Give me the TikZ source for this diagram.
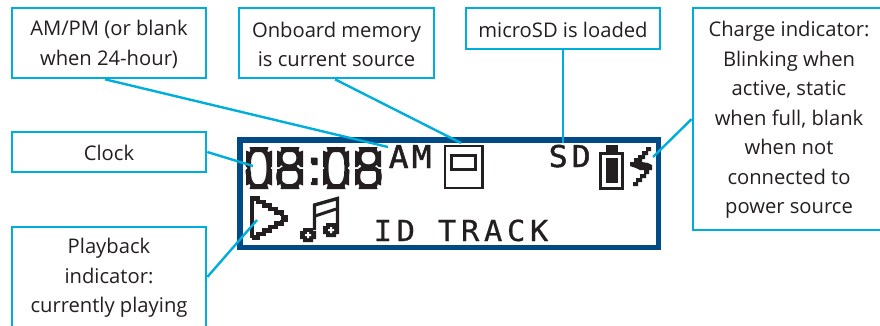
\documentclass[tikz,border=0pt]{standalone}
\usepackage{fontspec}
\setmainfont{Open Sans}
\newfontfamily\lcdmono[LetterSpace=15.3,FakeBold=0.6]{DejaVu Sans Mono}
\newfontfamily\lcdam[LetterSpace=9.3,FakeBold=1.5]{DejaVu Sans Mono}
\newfontfamily\lcdsd[LetterSpace=12.8,FakeBold=1.5]{DejaVu Sans Mono}
\newfontfamily\lcdseg{TeX Gyre Heros}
\definecolor{callout}{HTML}{00AEDB}
\definecolor{lcdframe}{HTML}{004A86}
\definecolor{lcdink}{HTML}{231F20}
\tikzset{
  labelbox/.style={draw=callout,line width=2.6pt,fill=white,inner sep=0pt},
  boxtext/.style={align=center,text=lcdink,inner sep=0pt,yshift=-1.2pt,
    font=\fontsize{20.2}{29.5}\selectfont},
  leader/.style={draw=callout,line width=2.4pt},
  ink/.style={draw=lcdink,line width=3pt,line cap=butt,line join=miter},
  lcdtext/.style={anchor=base west,inner sep=0pt,text=lcdink}
}
% one segmented digit frame over the printed numeral: #1 left edge, #2 = 1 draws the middle bar
\newcommand{\segframe}[2]{%
  \begin{scope}[shift={(#1,147)}]
    \fill[white] (-1,-1) rectangle (3.5,5) (22.5,-1) rectangle (27,5)
                 (-1,37) rectangle (3.5,43) (22.5,37) rectangle (27,43);
    \fill[white] (-1,19) rectangle (1,23) (25,19) rectangle (27,23);
    \fill[lcdink] (3.5,0) -- (22.5,0) -- (21,5) -- (5,5) -- cycle;
    \fill[lcdink] (3.5,42) -- (22.5,42) -- (21,37) -- (5,37) -- cycle;
    \fill[lcdink] (0,3.5) -- (5,5.5) -- (5,17) -- (2.5,20) -- (0,20) -- cycle;
    \fill[lcdink] (26,3.5) -- (21,5.5) -- (21,17) -- (23.5,20) -- (26,20) -- cycle;
    \fill[lcdink] (0,38.5) -- (5,36.5) -- (5,25) -- (2.5,22) -- (0,22) -- cycle;
    \fill[lcdink] (26,38.5) -- (21,36.5) -- (21,25) -- (23.5,22) -- (26,22) -- cycle;
    \ifnum#2=1 \fill[lcdink] (6,18.5) rectangle (20,23.5); \fi
  \end{scope}}
\begin{document}
\begin{tikzpicture}[x=1pt,y=-1pt]
\useasboundingbox (0,0) rectangle (880,325);
\fill[white] (0,0) rectangle (880,325);
% LCD frame
\draw[lcdframe,line width=5.6pt] (240,140) rectangle (658.5,247.5);
% LCD text
\node[lcdtext,font=\lcdseg\fontsize{58}{58}\selectfont] (clocktext) at (243.5,188.5) {\scalebox{.97}[1]{08:08}};
\fill[white] (310,185) rectangle (320,190);
\fill[lcdink] (312,158) rectangle (317.5,165) (312,178) rectangle (317.5,185);
\segframe{246}{0}
\segframe{277}{1}
\segframe{323}{0}
\segframe{355}{1}
\node[lcdtext,font=\lcdam\fontsize{31.5}{31.5}\selectfont] (ampm) at (388.5,168) {\scalebox{1.05}[1]{AM}};
\node[lcdtext,font=\lcdsd\fontsize{30}{30}\selectfont] (sdtext) at (548.5,167) {\scalebox{1.05}[1]{SD}};
\node[lcdtext,font=\lcdmono\fontsize{29}{29}\selectfont] (track) at (373.5,241) {\scalebox{1.05}[1]{ID TRACK}};
% memory icon
\draw[ink,line width=2.6pt] (445,146) rectangle (482.5,188);
\draw[ink,line width=2.2pt] (451.5,155.5) rectangle (475.5,169.5);
% battery
\draw[ink,line width=3pt] (600.5,153.5) rectangle (622.5,188);
\fill[lcdink] (606,145) rectangle (618,153);
\fill[lcdink] (606,157.5) rectangle (618,183);
% bolt
\fill[lcdink] (646,147) -- (651,147) -- (651,151) -- (648,151) -- (648,155) -- (645,155) -- (645,159) -- (642,159) -- (642,162) -- (648,163) -- (652,165) -- (652,170) -- (649,170) -- (649,174) -- (646,174) -- (646,178) -- (642,178) -- (642,182) -- (638,182) -- (638,186) -- (633,186) -- (633,182) -- (636,182) -- (636,178) -- (640,178) -- (640,174) -- (644,174) -- (644,170) -- (640,170) -- (636,168) -- (630,166) -- (630,162) -- (634,162) -- (634,158) -- (638,158) -- (638,155) -- (642,155) -- (642,151) -- (646,151) -- cycle;
% play triangle
\draw[ink,line width=4.2pt] (252,237.5) -- (252,198.5) -| (258,202) -| (264,205.5) -| (270,209) -| (276,212.5) -| (282,216);
\draw[ink,line width=4.2pt] (252,237.5) -| (258,234) -| (264,230.5) -| (270,227) -| (276,223.5) -| (282,220);
\fill[lcdink] (281,214.5) rectangle (288,221.5);
% notes
\draw[ink,line width=3.4pt] (314.5,230) -- (314.5,205) -- (337.5,198.5) -- (337.5,226);
\draw[ink,line width=3pt] (315,216) -- (336,209);
\fill[lcdink] (303,228) rectangle (313,242) (300,231) rectangle (316,239);
\fill[lcdink] (326,223) rectangle (336,237) (323,226) rectangle (339,234);
\fill[white] (305,234) rectangle (311,236) (307,232) rectangle (309,238);
\fill[white] (328,229) rectangle (334,231) (330,227) rectangle (332,233);
% callout boxes
\node[labelbox,minimum width=194pt,minimum height=70pt,label={[boxtext]center:{AM/PM (or blank\\when 24-hour)}}] (am) at (109,43) {};
\node[labelbox,minimum width=195pt,minimum height=70pt,label={[boxtext]center:{Onboard memory\\is current source}}] (mem) at (336.5,43) {};
\node[labelbox,minimum width=194pt,minimum height=41pt,label={[boxtext]center:{microSD is loaded}}] (sd) at (563,28.5) {};
\node[labelbox,minimum width=192pt,minimum height=222pt,label={[boxtext]center:{Charge indicator:\\Blinking when\\active, static\\when full, blank\\when not\\connected to\\power source}}] (chg) at (789,119) {};
\node[labelbox,minimum width=194pt,minimum height=40pt,label={[boxtext]center:{Clock}}] (clk) at (109,152) {};
\node[labelbox,minimum width=194pt,minimum height=100pt,label={[boxtext]center:{Playback\\indicator:\\currently playing}}] (play) at (109,277) {};
% connector ends
\coordinate (amEnd) at (388,147);
\coordinate (memEnd) at (461,143);
\coordinate (sdEnd) at (563,143);
\coordinate (chgEnd) at (653,157);
\coordinate (clkEnd) at (253,166);
\coordinate (playEnd) at (257,220);
\draw[leader] ([xshift=-4pt]am.south) -- (amEnd);
\draw[leader] ([xshift=-1.5pt]mem.south) -- (memEnd);
\draw[leader] (sd.south) -- (sdEnd);
\draw[leader] (chg.west) -- (chgEnd);
\draw[leader] (clk.east) -- (clkEnd);
\draw[leader] (play.east) -- (playEnd);
\end{tikzpicture}
\end{document}
